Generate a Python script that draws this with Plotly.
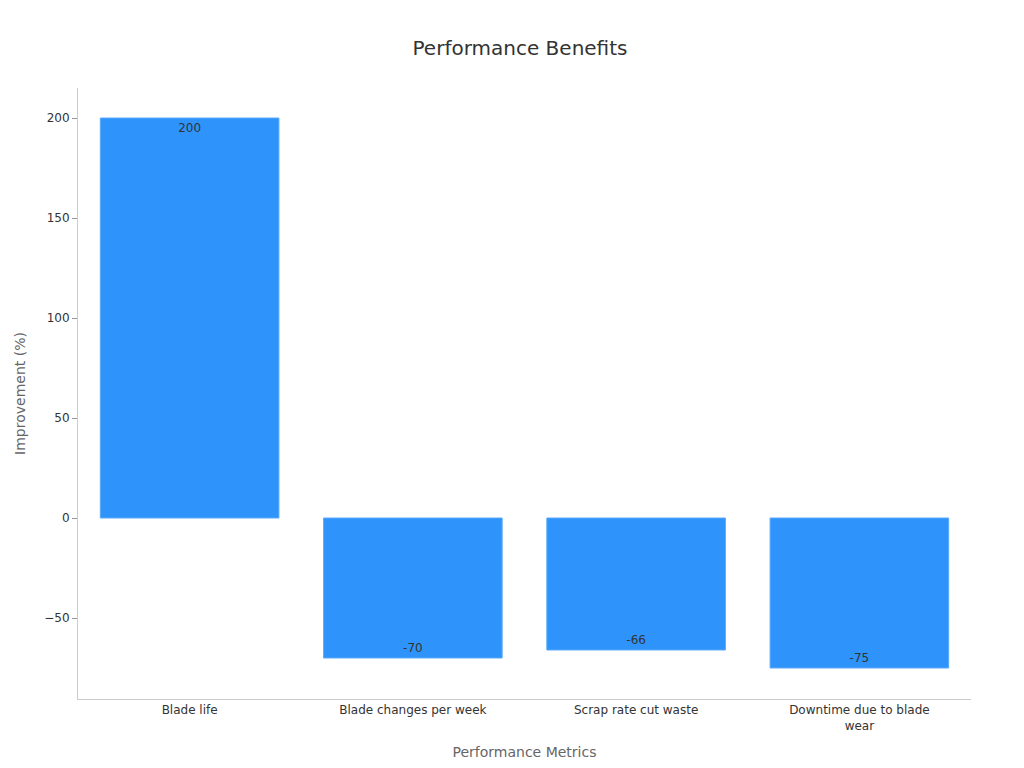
import plotly.graph_objects as go

categories = ["Blade life", "Blade changes per week", "Scrap rate cut waste", "Downtime due to blade<br>wear"]
values = [200, -70, -66, -75]

fig = go.Figure(go.Bar(
    x=categories, y=values, text=[str(v) for v in values],
    textposition="inside", insidetextanchor="end",
    textfont=dict(color="#333333", size=12, family="DejaVu Sans"),
    marker=dict(color="#2e93fa", line=dict(color="#5aaafb", width=1)),
    width=0.8,
))
fig.update_layout(
    width=1024, height=768,
    margin=dict(l=70, r=61, t=80, b=77),
    paper_bgcolor="white", plot_bgcolor="white",
    font=dict(family="DejaVu Sans", color="#333333", size=12),
    title=dict(text="Performance Benefits", x=0.5, xanchor="center", y=0.957, font=dict(size=20, color="#333333")),
    showlegend=False,
)
fig.update_xaxes(title=dict(text="Performance Metrics", font=dict(size=14, color="#666666")),
                 showline=True, linecolor="#cccccc", ticks="", showgrid=False, tickfont=dict(size=12))
fig.update_yaxes(title=dict(text="Improvement (%)", font=dict(size=14, color="#666666")),
                 range=[-90.5, 215], tickvals=[-50, 0, 50, 100, 150, 200],
                 showline=True, linecolor="#cccccc", ticks="outside", tickcolor="#999999", ticklen=5,
                 showgrid=False, zeroline=False, tickfont=dict(size=12))
fig.write_html("out.html")
